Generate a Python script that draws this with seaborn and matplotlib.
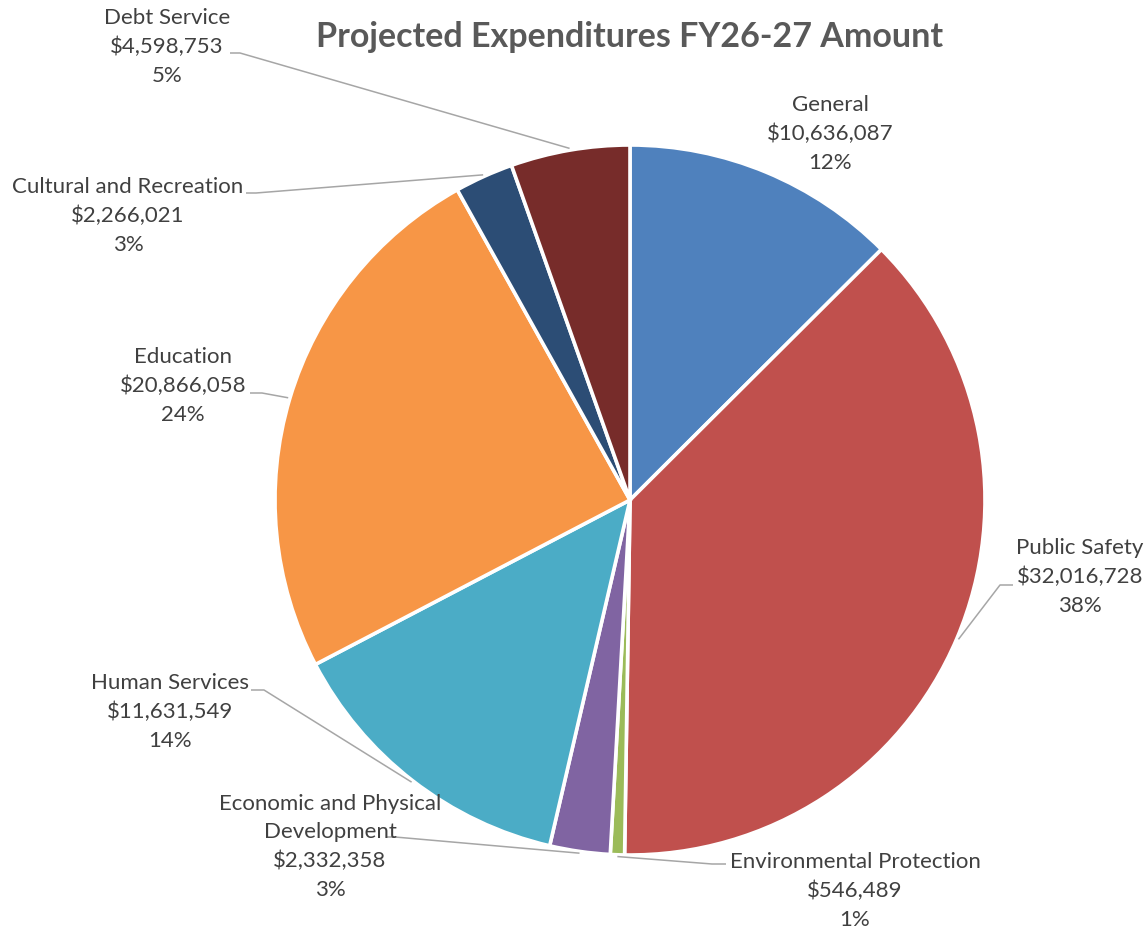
import numpy as np
import matplotlib
matplotlib.use("Agg")
import matplotlib.pyplot as plt
import seaborn as sns

# ---- data ----
categories = ["General", "Public Safety", "Environmental Protection",
              "Economic and Physical\nDevelopment", "Human Services",
              "Education", "Cultural and Recreation", "Debt Service"]
amounts = [10636087, 32016728, 546489, 2332358, 11631549, 20866058, 2266021, 4598753]
pct_labels = ["12%", "38%", "1%", "3%", "14%", "24%", "3%", "5%"]
colors = ["#4F81BD", "#C0504D", "#9BBB59", "#8064A2", "#4BACC6", "#F79646", "#2C4D75", "#772C2A"]
title = "Projected Expenditures FY26-27 Amount"

# ---- layout (pixel positions of label blocks and leader-line anchors) ----
W, H = 1147, 932
CX, CY, R = 630, 500, 355
label_px = [(830, 134), (1080, 577), (855, 891), (330, 847),
            (170, 712), (183, 386), (128, 216), (167, 47)]
leader_px = [None, ((1013, 585), (1000, 585)), ((726, 864), (712, 864)),
             ((387, 837), (395, 837)), ((251, 690), (264, 690)),
             ((250, 393), (262, 393)), ((246, 193), (256, 193)),
             ((230, 53), (240, 53))]

sns.set_theme(style="white")
plt.rcParams['font.family'] = ['Lato', 'DejaVu Sans']

def px(x, y):
    return ((x - CX) / R, (CY - y) / R)

fig = plt.figure(figsize=(W / 100, H / 100), dpi=100)
ax = fig.add_axes([0, 0, 1, 1])
palette = sns.color_palette(colors)
wedges, _ = ax.pie(amounts, colors=palette, startangle=90, counterclock=False,
                   radius=1.0, wedgeprops=dict(edgecolor="white", linewidth=2.6))
ax.set_xlim(-CX / R, (W - CX) / R)
ax.set_ylim(-(H - CY) / R, CY / R)
ax.set_aspect("equal")
ax.set_axis_off()

for i, w in enumerate(wedges):
    text = f"{categories[i]}\n${amounts[i]:,}\n{pct_labels[i]}"
    lx, ly = px(*label_px[i])
    ax.text(lx, ly, text, ha="center", va="center", fontsize=16,
            color="#404040", linespacing=1.53, zorder=5)
    if leader_px[i] is not None:
        mid = np.deg2rad((w.theta1 + w.theta2) / 2)
        ex, ey = np.cos(mid) * 1.005, np.sin(mid) * 1.005
        (sx, sy), (kx, ky) = px(*leader_px[i][0]), px(*leader_px[i][1])
        ax.plot([sx, kx, ex], [sy, ky, ey], color="#A6A6A6", lw=1.1,
                zorder=1, solid_capstyle="butt")

tx, ty = px(630, 37)
ax.text(tx, ty, title, ha="center", va="center", fontsize=24.5,
        fontweight="bold", color="#595959")

fig.savefig("out.png", dpi=100, facecolor="white")
